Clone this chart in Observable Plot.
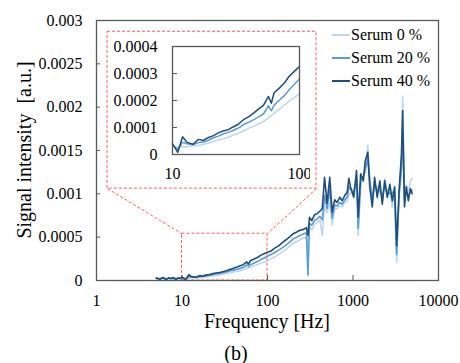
<!DOCTYPE html>
<html><head><meta charset="utf-8">
<script src="https://cdn.jsdelivr.net/npm/d3@7"></script>
<script src="https://cdn.jsdelivr.net/npm/@observablehq/plot@0.6"></script>
<style>
body{margin:0;background:#fff;}
#wrap{position:relative;width:460px;height:363px;font-family:"Liberation Serif","Times New Roman",serif;color:#000;}
#main{position:absolute;left:0;top:0;}
#inset{position:absolute;left:100px;top:31px;}
#legend{position:absolute;left:332px;top:23px;}
.row{display:flex;align-items:center;height:23px;font-size:16px;line-height:23px;white-space:nowrap;}
.sw{width:18px;height:2px;margin-right:1px;}
#ytitle{position:absolute;left:24px;top:150px;transform:translate(-50%,-50%) rotate(-90deg);font-size:20px;line-height:20px;white-space:pre;}
#xtitle{position:absolute;left:96px;top:311px;width:342px;text-align:center;font-size:20px;line-height:20px;white-space:pre;}
#cap{position:absolute;left:6px;top:343px;width:460px;text-align:center;font-size:20px;line-height:20px;}
</style></head>
<body>
<div id="wrap"><div id="main"></div><div id="inset"></div><div id="legend"></div><div id="ytitle"></div><div id="xtitle"></div><div id="cap">(b)</div></div>
<script>
// ---- data ----
const seriesNames = ["Serum 0 %", "Serum 20 %", "Serum 40 %"];
const seriesColors = ["#bdd7ee", "#5b9bd5", "#1f4e79"];
const xTitle = "Frequency [Hz]";
const yTitle = "Signal intensity  [a.u.]";
const freq = [5,5.5,6,6.5,7,7.5,8,8.5,9,9.5,
 10,11,12,13,14.5,16,17.5,19,21,23,25,27.5,30,33,36,40,44,48,52,57,60,63,69,76,83,91,100,
 110,120,135,150,165,180,200,220,240,265,285,297,310,330,355,380,410,437,465,497,535,570,610,653,700,747,800,856,893,935,
 1020,1100,1150,1230,1320,1390,1490,1570,1680,1790,1920,2060,2200,2350,2520,2700,2880,3070,3240,3460,3690,3810,4000,4200,4440,4690,4920];
const serum0 = [
 0.20e-4,0.25e-4,0.20e-4,0.25e-4,0.20e-4,0.30e-4,0.25e-4,0.20e-4,0.30e-4,0.28e-4,
 0.30e-4,0.28e-4,0.30e-4,0.28e-4,0.32e-4,0.33e-4,0.38e-4,0.42e-4,0.48e-4,0.54e-4,
 0.58e-4,0.64e-4,0.72e-4,0.78e-4,0.86e-4,0.98e-4,1.06e-4,1.14e-4,1.22e-4,1.36e-4,
 1.45e-4,1.52e-4,1.66e-4,1.84e-4,1.98e-4,2.10e-4,2.26e-4,
 2.5e-4,2.7e-4,3.0e-4,3.3e-4,3.6e-4,3.9e-4,4.3e-4,4.5e-4,4.7e-4,4.9e-4,
 5.0e-4,3.5e-4,6.2e-4,5.9e-4,6.5e-4,6.7e-4,7.0e-4,5.2e-4,8.6e-4,7.8e-4,
 9.0e-4,6.4e-4,8.2e-4,8.3e-4,8.6e-4,8.5e-4,9.0e-4,9.2e-4,9.9e-4,10.0e-4,
 10.4e-4,11.2e-4,5.2e-4,11.0e-4,11.8e-4,12.5e-4,15.6e-4,11.8e-4,8.8e-4,11.4e-4,
 10.0e-4,10.8e-4,9.0e-4,11.8e-4,9.8e-4,10.6e-4,8.4e-4,10.4e-4,2.1e-4,10.0e-4,
 14.0e-4,21.2e-4,9.0e-4,11.0e-4,10.2e-4,11.4e-4,11.8e-4];
const serum20 = [
 0.25e-4,0.20e-4,0.30e-4,0.15e-4,0.25e-4,0.30e-4,0.20e-4,0.15e-4,0.25e-4,0.30e-4,
 0.35e-4,0.18e-4,0.45e-4,0.40e-4,0.36e-4,0.44e-4,0.46e-4,0.52e-4,0.62e-4,0.68e-4,
 0.76e-4,0.82e-4,0.89e-4,0.98e-4,1.10e-4,1.20e-4,1.30e-4,1.40e-4,1.50e-4,1.80e-4,
 1.62e-4,1.82e-4,2.00e-4,2.18e-4,2.40e-4,2.60e-4,2.80e-4,
 3.0e-4,3.2e-4,3.5e-4,3.8e-4,4.1e-4,4.4e-4,4.8e-4,5.0e-4,5.2e-4,5.4e-4,
 5.5e-4,0.6e-4,6.6e-4,6.4e-4,6.9e-4,7.1e-4,7.4e-4,7.0e-4,9.8e-4,8.3e-4,
 10.5e-4,7.2e-4,8.7e-4,8.6e-4,9.0e-4,8.8e-4,9.3e-4,9.6e-4,10.8e-4,10.5e-4,
 10.2e-4,11.8e-4,6.0e-4,11.5e-4,12.0e-4,12.8e-4,14.0e-4,11.5e-4,9.5e-4,11.0e-4,
 10.5e-4,10.4e-4,9.6e-4,10.9e-4,10.3e-4,10.0e-4,10.2e-4,9.8e-4,3.0e-4,9.8e-4,
 12.8e-4,17.5e-4,9.4e-4,10.2e-4,9.8e-4,10.2e-4,10.4e-4];
const serum40 = [
 0.30e-4,0.15e-4,0.35e-4,0.10e-4,0.30e-4,0.20e-4,0.35e-4,0.10e-4,0.30e-4,0.20e-4,
 0.40e-4,0.08e-4,0.66e-4,0.45e-4,0.38e-4,0.56e-4,0.52e-4,0.62e-4,0.70e-4,0.80e-4,
 0.87e-4,0.92e-4,1.02e-4,1.12e-4,1.28e-4,1.40e-4,1.55e-4,1.70e-4,1.82e-4,2.15e-4,
 1.90e-4,2.28e-4,2.45e-4,2.65e-4,2.90e-4,3.08e-4,3.26e-4,
 3.4e-4,3.7e-4,4.0e-4,4.4e-4,4.7e-4,5.0e-4,5.4e-4,5.6e-4,5.8e-4,5.9e-4,
 6.1e-4,5.2e-4,7.3e-4,6.9e-4,7.6e-4,7.7e-4,8.0e-4,8.3e-4,11.9e-4,8.9e-4,
 11.9e-4,7.9e-4,9.3e-4,9.0e-4,9.6e-4,9.2e-4,9.8e-4,10.2e-4,11.8e-4,10.8e-4,
 9.6e-4,12.7e-4,7.3e-4,12.3e-4,11.5e-4,13.8e-4,14.8e-4,10.8e-4,8.5e-4,11.9e-4,
 9.6e-4,11.5e-4,8.8e-4,11.5e-4,9.6e-4,11.1e-4,9.2e-4,10.8e-4,4.0e-4,10.4e-4,
 14.6e-4,19.6e-4,8.5e-4,10.8e-4,9.2e-4,10.6e-4,10.0e-4];
const xTicks = [1, 10, 100, 1000, 10000];
const yTicks = [0, 0.0005, 0.001, 0.0015, 0.002, 0.0025, 0.003];
const insetXTicks = [10, 100];
const insetYTicks = [0, 0.0001, 0.0002, 0.0003, 0.0004];
// zoom annotation (main-chart coordinates)
const zoomBox = [{x1: 10, x2: 100, y1: 0, y2: 0.00054}];
const insetBox = [{x1: 1.345, x2: 374, y1: 0.00106, y2: 0.00287}];
const connectors = [
  {x1: 1.345, y1: 0.00106, x2: 10, y2: 0.00054},
  {x1: 374, y1: 0.00106, x2: 100, y2: 0.00054}];

// ---- build ----
const FONT = '"Liberation Serif","Times New Roman",serif';
const RED = "#ff5a5a";
const GRAY = "#595959";
const allSeries = [serum0, serum20, serum40];
const rows = [];
allSeries.forEach((vals, k) => freq.forEach((f, i) => rows.push({f, v: vals[i], s: seriesNames[k]})));
const rowsIn = rows.filter(d => d.f >= 10 && d.f <= 100);
const fmt = d => String(d);

const main = Plot.plot({
  width: 460, height: 343,
  marginLeft: 96, marginRight: 22, marginTop: 20, marginBottom: 63,
  style: {fontFamily: FONT, fontSize: "16px", color: "#000", background: "transparent"},
  x: {type: "log", domain: [1, 10000]},
  y: {domain: [0, 0.003]},
  color: {domain: seriesNames, range: seriesColors},
  marks: [
    Plot.axisX({ticks: xTicks, tickSize: 0, tickPadding: 14, tickFormat: fmt, label: null}),
    Plot.axisY({ticks: yTicks, tickSize: 0, tickPadding: 14, tickFormat: fmt, label: null}),
    Plot.rect(zoomBox, {x1: "x1", x2: "x2", y1: "y1", y2: "y2", fill: "none", stroke: RED, strokeDasharray: "3,2"}),
    Plot.rect(insetBox, {x1: "x1", x2: "x2", y1: "y1", y2: "y2", fill: "none", stroke: RED, strokeDasharray: "3,2"}),
    Plot.link(connectors, {x1: "x1", y1: "y1", x2: "x2", y2: "y2", stroke: RED, strokeDasharray: "3,2"}),
    Plot.line(rows, {x: "f", y: "v", z: "s", stroke: "s", strokeWidth: 1.6}),
    Plot.tickX(xTicks, {x: d => d, insetTop: 255, stroke: GRAY}),
    Plot.tickY(yTicks, {y: d => d, insetRight: 338, stroke: GRAY}),
    Plot.frame({stroke: GRAY, strokeWidth: 1.3})
  ]
});
document.getElementById("main").appendChild(main);

const inset = Plot.plot({
  width: 210, height: 160,
  marginLeft: 72, marginRight: 11, marginTop: 15, marginBottom: 37,
  style: {fontFamily: FONT, fontSize: "16px", color: "#000", background: "transparent"},
  x: {type: "log", domain: [10, 100]},
  y: {domain: [0, 0.0004]},
  color: {domain: seriesNames, range: seriesColors},
  marks: [
    Plot.axisX({ticks: insetXTicks, tickSize: 0, tickPadding: 13, tickFormat: fmt, label: null}),
    Plot.axisY({ticks: insetYTicks, tickSize: 0, tickPadding: 15, tickFormat: fmt, label: null}),
    Plot.line(rowsIn, {x: "f", y: "v", z: "s", stroke: "s", strokeWidth: 1.5}),
    Plot.tickY(insetYTicks, {y: d => d, insetRight: 122, stroke: GRAY}),
    Plot.frame({stroke: GRAY, strokeWidth: 1.3})
  ]
});
document.getElementById("inset").appendChild(inset);

document.getElementById("ytitle").textContent = yTitle;
document.getElementById("xtitle").textContent = xTitle;

const legend = document.getElementById("legend");
seriesNames.forEach((name, k) => {
  const row = document.createElement("div");
  row.className = "row";
  const sw = document.createElement("span");
  sw.className = "sw";
  sw.style.background = seriesColors[k];
  const t = document.createElement("span");
  t.textContent = name;
  row.appendChild(sw); row.appendChild(t);
  legend.appendChild(row);
});
</script>
</body></html>
